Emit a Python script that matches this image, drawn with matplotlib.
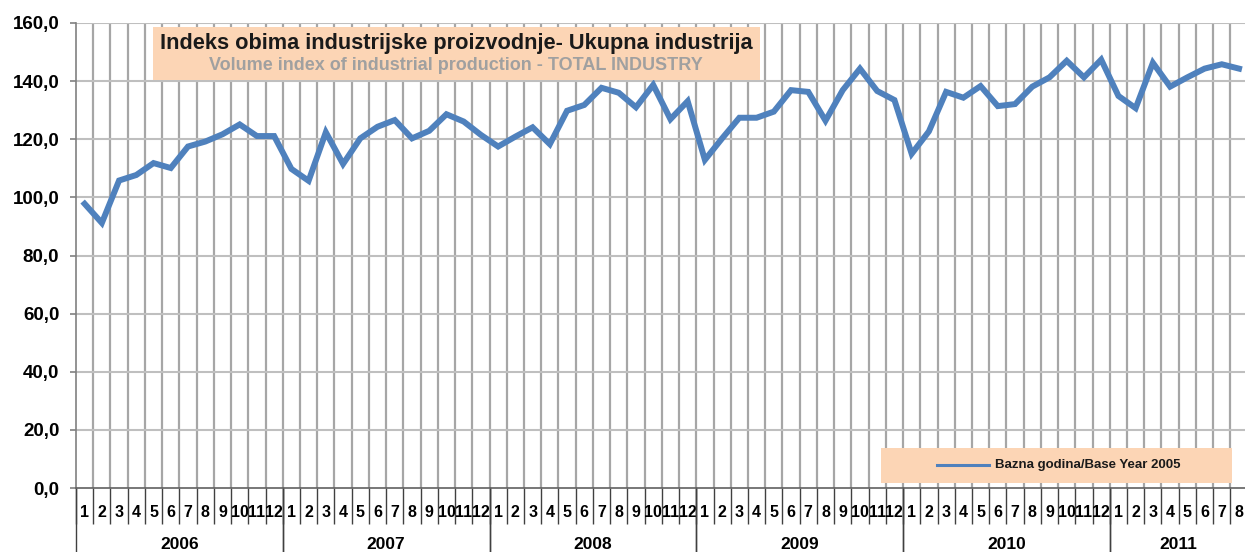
import numpy as np
import matplotlib
matplotlib.use('Agg')
import matplotlib.pyplot as plt
from matplotlib.patches import Rectangle
from matplotlib.lines import Line2D
import matplotlib.transforms as mtransforms

# Monthly volume index, base year 2005 (Jan 2006 - Aug 2011)
years = ['2006', '2007', '2008', '2009', '2010', '2011']
months_per_year = [12, 12, 12, 12, 12, 8]
index_2006 = [97.8, 91.2, 105.8, 107.7, 111.8, 110.1, 117.5, 119.2, 121.7, 125.1, 121.1, 121.1]
index_2007 = [109.8, 105.7, 122.4, 111.5, 120.3, 124.3, 126.6, 120.3, 122.9, 128.6, 126.1, 121.5]
index_2008 = [117.5, 120.9, 124.1, 118.3, 129.8, 131.8, 137.7, 136.0, 131.0, 138.7, 126.9, 133.1]
index_2009 = [112.9, 120.3, 127.4, 127.4, 129.5, 136.9, 136.3, 126.4, 136.9, 144.3, 136.6, 133.5]
index_2010 = [115.0, 122.7, 136.3, 134.3, 138.3, 131.4, 132.1, 138.1, 141.3, 147.0, 141.3, 147.4]
index_2011 = [134.9, 130.7, 146.3, 138.1, 141.3, 144.3, 145.8, 144.3]
y_ticks = [0, 20, 40, 60, 80, 100, 120, 140, 160]

title_bs = 'Indeks obima industrijske proizvodnje- Ukupna industrija'
title_en = 'Volume index of industrial production - TOTAL INDUSTRY'
legend_label = 'Bazna godina/Base Year 2005'

W, H = 1245, 552
FONT = 'Liberation Sans'
BLUE = '#4F81BD'
PEACH = '#FCD5B5'


def px(x, y):
    """Pixel position (top-left origin) -> figure fraction."""
    return x / W, 1 - y / H


def main():
    values = index_2006 + index_2007 + index_2008 + index_2009 + index_2010 + index_2011
    n = len(values)
    x = np.arange(n) + 0.5

    fig = plt.figure(figsize=(W / 100, H / 100), dpi=100)
    left, top, bottom = 76, 23, 488
    step = 17.23
    ax = fig.add_axes([left / W, 1 - bottom / H, n * step / W, (bottom - top) / H])

    ax.set_xlim(0, n)
    ax.set_ylim(0, 160)

    # grid
    for b in range(1, n):
        ax.axvline(b, color='#a6a6a6', lw=1.6, zorder=1)
    for t in y_ticks[1:]:
        ax.axhline(t, color='#bfbfbf', lw=1.5, zorder=1)

    ax.plot(x, values, color=BLUE, lw=4.3, solid_joinstyle='miter', zorder=3)

    for s in ['top', 'right']:
        ax.spines[s].set_visible(False)
    ax.spines['left'].set_color('#808080')
    ax.spines['left'].set_linewidth(1.2)
    ax.spines['bottom'].set_color('#606060')
    ax.spines['bottom'].set_linewidth(1.2)

    ax.set_yticks(y_ticks)
    ax.set_yticklabels([f'{t:.1f}'.replace('.', ',') for t in y_ticks],
                       fontfamily=FONT, fontweight='bold', fontsize=13.5)
    ax.tick_params(axis='y', length=4, width=1.2, color='#808080', pad=8)

    # month separators below the axis, month numbers as labels
    ax.set_xticks(np.arange(0, n + 1))
    ax.set_xticklabels([])
    ax.tick_params(axis='x', which='major', length=26, width=1.0, color='#404040')
    ax.set_xticks(x, minor=True)
    ax.set_xticklabels([str(i % 12 + 1) for i in range(n)], minor=True,
                       fontfamily=FONT, fontweight='bold', fontsize=11.5)
    ax.tick_params(axis='x', which='minor', length=0, pad=12)

    # year separators and labels
    trans = mtransforms.blended_transform_factory(ax.transData, ax.transAxes)
    start = 0
    for yr, m in zip(years, months_per_year):
        for edge in (start, start + m):
            ax.add_line(Line2D([edge, edge], [0, -0.2], transform=trans,
                               color='#404040', lw=1.0, clip_on=False))
        ax.text(start + m / 2, -0.121, yr, transform=trans, ha='center', va='center',
                fontfamily=FONT, fontweight='bold', fontsize=12.5)
        start += m

    # title box
    x0, y0 = px(153, 80)
    x1, y1 = px(760, 27)
    fig.add_artist(Rectangle((x0, y0), x1 - x0, y1 - y0, transform=fig.transFigure,
                             facecolor=PEACH, edgecolor='none'))
    fig.text(*px(456, 44), title_bs, ha='center', va='center',
             fontfamily=FONT, fontweight='bold', fontsize=15.7, color='#1a1a1a')
    fig.text(*px(456, 66), title_en, ha='center', va='center',
             fontfamily=FONT, fontweight='bold', fontsize=13, color='#a0a0a0')

    # legend box
    x0, y0 = px(881, 483)
    x1, y1 = px(1232, 448)
    fig.add_artist(Rectangle((x0, y0), x1 - x0, y1 - y0, transform=fig.transFigure,
                             facecolor=PEACH, edgecolor='none'))
    lx0, ly = px(937, 465)
    lx1, _ = px(989, 465)
    fig.add_artist(Line2D([lx0, lx1], [ly, ly], transform=fig.transFigure,
                          color=BLUE, lw=2.2))
    fig.text(*px(995, 465), legend_label, ha='left', va='center',
             fontfamily=FONT, fontweight='bold', fontsize=9.5, color='#1a1a1a')

    fig.savefig('out.png', dpi=100, facecolor='white')


if __name__ == '__main__':
    main()
